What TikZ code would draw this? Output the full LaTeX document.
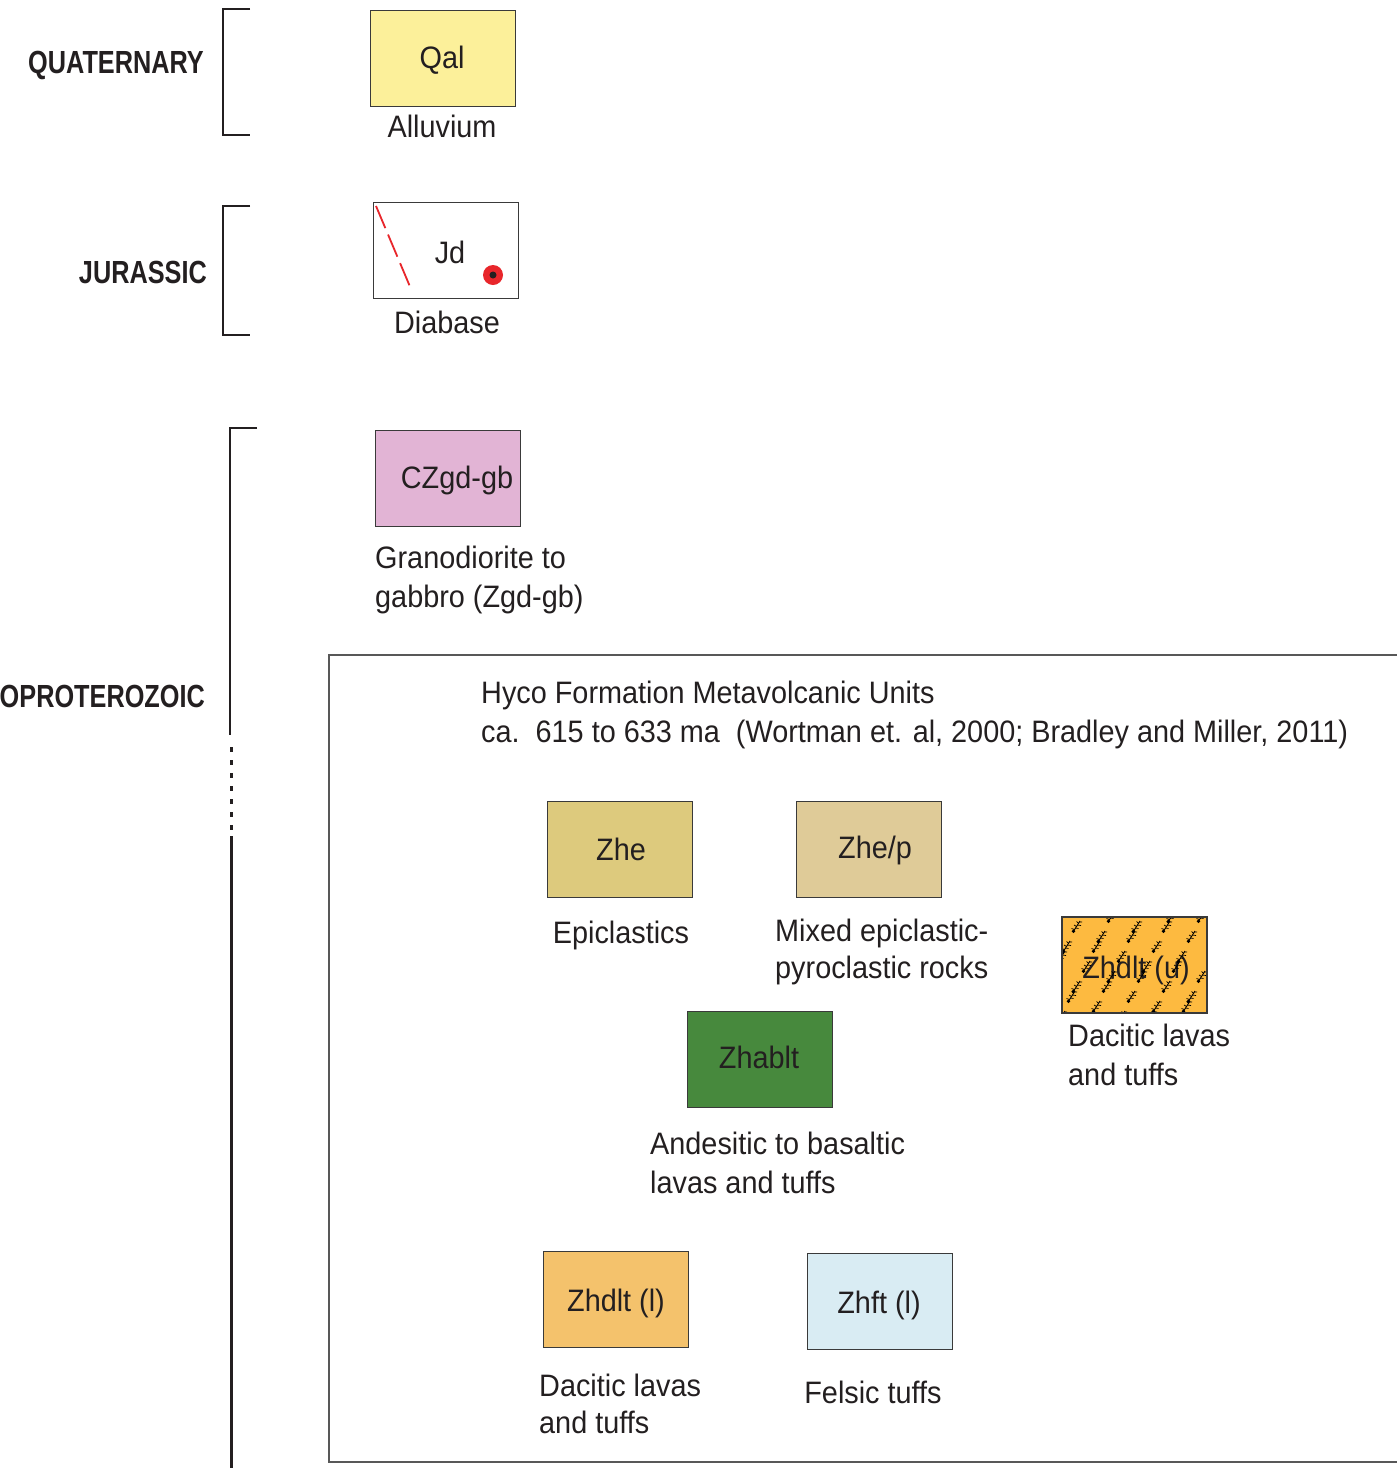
\documentclass[tikz,border=0pt]{standalone}
\usepackage{fontspec}
\setmainfont{Liberation Sans}[FakeStretch=0.93]
\newfontfamily\eracond{Liberation Sans}[FakeStretch=0.79]
\definecolor{ink}{HTML}{231F20}
\definecolor{boxline}{HTML}{3A3A3A}
\definecolor{qalc}{HTML}{FCF09A}
\definecolor{czc}{HTML}{E2B4D5}
\definecolor{zhec}{HTML}{DDCA7D}
\definecolor{zhepc}{HTML}{DFCB98}
\definecolor{zuc}{HTML}{FDBA40}
\definecolor{zabc}{HTML}{47893D}
\definecolor{zlc}{HTML}{F4C26C}
\definecolor{zftc}{HTML}{D9ECF3}
\definecolor{redline}{HTML}{E8262B}
\tikzset{
  unitbox/.style={draw=boxline, line width=1.4pt, minimum width=145pt, minimum height=96pt, inner sep=0pt, anchor=north west},
  boxtext/.style={anchor=base, inner sep=0pt, text=ink, font=\fontsize{31}{38}\selectfont},
  lblc/.style={anchor=base, inner sep=0pt, text=ink, font=\fontsize{31}{38}\selectfont},
  lblw/.style={anchor=base west, inner sep=0pt, text=ink, font=\fontsize{31}{38}\selectfont},
  era/.style={anchor=base east, inner sep=0pt, text=ink, font=\eracond\bfseries\fontsize{32}{38}\selectfont},
  bracket/.style={draw=ink, line width=2.2pt},
  fern/.pic={
    \draw[line width=0.9pt, black] (0,0) -- (7,-11);
    \draw[line width=0.7pt, black] (1.5,-2.5) -- (-1.5,-3.5) (2.5,-4) -- (5.5,-3.5)
       (3.5,-5.5) -- (1,-7) (4.5,-7) -- (8,-6.5) (5.5,-8.8) -- (3.5,-10.5) (6.5,-10) -- (9,-10);
    \fill[black] (0.5,-0.8) circle (1.8);
  }
}
\begin{document}
\begin{tikzpicture}[x=1pt, y=-1pt]
\useasboundingbox (0,0) rectangle (1397,1468);

% era labels
\node[era] (tq) at (204,73.5) {QUATERNARY};
\node[era] (tj) at (207,283.5) {JURASSIC};
\node[era] (tn) at (205,707.5) {OPROTEROZOIC};

% brackets
\draw[bracket] (250,9) -- (223,9) -- (223,135) -- (250,135);
\draw[bracket] (250,206) -- (223,206) -- (223,335) -- (250,335);
\draw[bracket] (257,428) -- (230,428) -- (230,735);
\draw[draw=ink, line width=2.2pt, dash pattern=on 5pt off 8pt] (231.5,747) -- (231.5,834);
\draw[bracket] (231.5,836) -- (231.5,1470);

% Quaternary
\node[unitbox, fill=qalc] (qal) at (370,10) {};
\node[boxtext] (qalT) at (442,68) {Qal};
\node[lblc] (qalL) at (442,137) {Alluvium};

% Jurassic
\node[unitbox, fill=white] (jd) at (373,202) {};
\draw[redline, line width=1.8pt, dash pattern=on 24pt off 7pt] (376,206) -- (411,289);
\node[boxtext] (jdT) at (450,263) {Jd};
\fill[redline] (493,275) circle (10);
\fill[ink] (493,275) circle (3.5);
\node[lblc] (jdL) at (447,333) {Diabase};

% CZgd-gb
\node[unitbox, fill=czc] (cz) at (375,430) {};
\node[boxtext] (czT) at (457,488) {CZgd-gb};
\node[lblw] (czL1) at (375,568) {Granodiorite to};
\node[lblw] (czL2) at (375,607) {gabbro (Zgd-gb)};

% Hyco formation frame
\draw[draw=boxline!85, line width=1.4pt] (1410,655) -- (329,655) -- (329,1462) -- (1410,1462);
\node[lblw] (h1) at (481,703) {Hyco Formation Metavolcanic Units};
\node[lblw] (h2) at (481,742) {ca.\ \ 615 to 633 ma\ \ (Wortman et. al, 2000; Bradley and Miller, 2011)};

% Zhe
\node[unitbox, fill=zhec] (zhe) at (547,801) {};
\node[boxtext] (zheT) at (621,860) {Zhe};
\node[lblc] (zheL) at (621,943) {Epiclastics};

% Zhe/p
\node[unitbox, fill=zhepc] (zhep) at (796,801) {};
\node[boxtext] (zhepT) at (875,858) {Zhe/p};
\node[lblw] (zhepL1) at (775,941) {Mixed epiclastic-};
\node[lblw] (zhepL2) at (775,978) {pyroclastic rocks};

% Zhdlt (u)
\node[unitbox, fill=zuc] (zu) at (1062,917) {};
\node[boxtext] (zuT) at (1136,978) {Zhdlt (u)};
\begin{scope}
  \clip (1062,917) rectangle (1207,1013);
  \foreach \b in {0,...,7}{
    \foreach \k in {0,...,10}{
      \pgfmathtruncatemacro{\rr}{mod(\b*3+\k*2,5)}
      \ifnum\rr>1
        \pic at ({1028+30*\b+5*\k},{1022-10*\k}) {fern};
      \fi
    }
  }
\end{scope}
\draw[draw=boxline, line width=1.4pt] (1062,917) rectangle (1207,1013);
\node[lblw] (zuL1) at (1068,1046) {Dacitic lavas};
\node[lblw] (zuL2) at (1068,1085) {and tuffs};

% Zhablt
\node[unitbox, fill=zabc] (zab) at (687,1011) {};
\node[boxtext] (zabT) at (759,1068) {Zhablt};
\node[lblw] (zabL1) at (650,1154) {Andesitic to basaltic};
\node[lblw] (zabL2) at (650,1193) {lavas and tuffs};

% Zhdlt (l)
\node[unitbox, fill=zlc] (zl) at (543,1251) {};
\node[boxtext] (zlT) at (616,1311) {Zhdlt (l)};
\node[lblw] (zlL1) at (539,1396) {Dacitic lavas};
\node[lblw] (zlL2) at (539,1433) {and tuffs};

% Zhft (l)
\node[unitbox, fill=zftc] (zft) at (807,1253) {};
\node[boxtext] (zftT) at (879,1313) {Zhft (l)};
\node[lblc] (zftL) at (873,1403) {Felsic tuffs};

\end{tikzpicture}
\end{document}
